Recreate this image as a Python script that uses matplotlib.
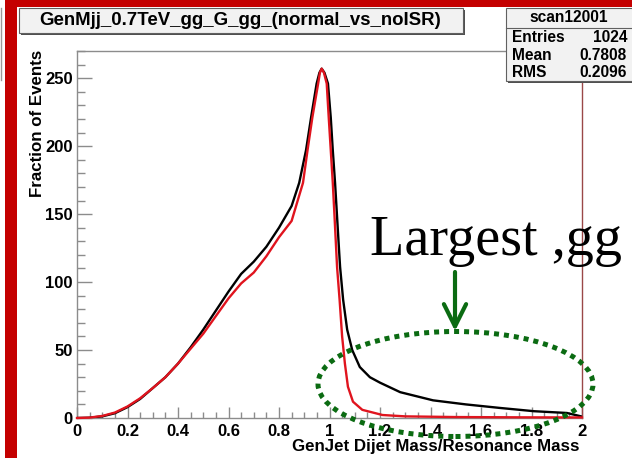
import matplotlib
matplotlib.use("Agg")
import matplotlib.pyplot as plt
from matplotlib.patches import Rectangle, Ellipse
from matplotlib.ticker import MultipleLocator

# GenJet dijet mass / resonance mass, normal generation (black) vs no ISR (red)
x_normal = [0.0, 0.05, 0.1, 0.15, 0.2, 0.25, 0.3, 0.35, 0.4, 0.45, 0.5, 0.55,
            0.6, 0.65, 0.7, 0.75, 0.8, 0.85, 0.88, 0.907, 0.927, 0.949, 0.96, 0.969,
            0.98, 0.994, 1.005, 1.013, 1.022, 1.03, 1.038, 1.042, 1.054, 1.07, 1.09,
            1.12, 1.16, 1.2, 1.28, 1.41, 1.54, 1.675, 1.81, 1.94, 1.99, 2.0]
y_normal = [0.0, 0.2, 1.2, 3.5, 8, 14, 22, 30, 40, 52, 65, 79,
            93, 106, 115, 126, 140, 156, 173, 197, 221, 246, 254, 257,
            254, 246, 221, 197, 173, 148, 123, 111, 87, 65, 50,
            37.5, 30, 26, 19, 13, 10, 7.4, 5, 3.7, 1.5, 1.0]

x_noisr = [0.0, 0.05, 0.1, 0.15, 0.2, 0.25, 0.3, 0.35, 0.4, 0.45, 0.5, 0.55,
           0.6, 0.65, 0.7, 0.75, 0.8, 0.85, 0.895, 0.913, 0.932, 0.955, 0.962, 0.969,
           0.978, 0.989, 0.997, 1.005, 1.013, 1.02, 1.03, 1.04, 1.05, 1.061, 1.073,
           1.093, 1.13, 1.21, 1.3, 1.5, 1.75, 2.0]
y_noisr = [0.0, 0.3, 1.5, 4, 8.5, 14.5, 22, 30, 40, 51, 62, 75,
           88, 99, 107, 119, 133, 145, 173, 197, 221, 246, 254, 257,
           254, 246, 221, 197, 173, 148, 111, 87, 60, 40, 23,
           12, 6, 2.2, 1.2, 0.7, 0.5, 0.4]

stats_names = ["Entries", "Mean", "RMS"]
stats_values = ["1024", "0.7808", "0.2096"]

W, H = 632, 458
ROOT_FONT = "Liberation Sans"
GREEN = "#0b6b12"


def fx(px):
    return px / W


def fy(py):
    return 1 - py / H


fig = plt.figure(figsize=(W / 100, H / 100), dpi=100)
ax = fig.add_axes([fx(77), fy(418), fx(582) - fx(77), fy(51) - fy(418)])

ax.plot(x_normal, y_normal, color="black", lw=1.7, zorder=3)
ax.plot(x_noisr, y_noisr, color="#e0141e", lw=1.7, zorder=4, clip_on=False)

ax.set_xlim(0, 2)
ax.set_ylim(0, 270)
ax.xaxis.set_major_locator(MultipleLocator(0.2))
ax.xaxis.set_minor_locator(MultipleLocator(0.05))
ax.yaxis.set_major_locator(MultipleLocator(50))
ax.yaxis.set_minor_locator(MultipleLocator(10))
ax.xaxis.set_major_formatter(plt.FuncFormatter(lambda v, p: f"{v:g}"))

for side in ["left", "top", "bottom"]:
    ax.spines[side].set_color("#8c8c8c")
    ax.spines[side].set_linewidth(1.0)
ax.spines["right"].set_color("#9a4848")
ax.spines["right"].set_linewidth(1.0)

ax.tick_params(axis="both", which="both", direction="in", color="#8c8c8c",
               width=1.0, labelsize=12)
ax.tick_params(axis="y", which="major", length=11, pad=3)
ax.tick_params(axis="y", which="minor", length=6)
ax.tick_params(axis="x", which="major", length=8, pad=4)
ax.tick_params(axis="x", which="minor", length=4.5)
for lab in ax.get_xticklabels() + ax.get_yticklabels():
    lab.set_fontfamily(ROOT_FONT)
    lab.set_fontweight("bold")

# axis titles
fig.text(fx(38), fy(50), "Fraction of Events", rotation=90, ha="center",
         va="top", fontsize=12.2, fontweight="bold", family=ROOT_FONT)
fig.text(fx(579), fy(447), "GenJet Dijet Mass/Resonance Mass", ha="right",
         va="center", fontsize=12.2, fontweight="bold", family=ROOT_FONT)


def root_box(x0, y0, x1, y1):
    fig.add_artist(Rectangle((fx(x0 + 2), fy(y1 + 2)), fx(x1 - x0), fy(y0) - fy(y1),
                             transform=fig.transFigure, fc="#505050", ec="none",
                             zorder=5))
    fig.add_artist(Rectangle((fx(x0), fy(y1)), fx(x1 - x0), fy(y0) - fy(y1),
                             transform=fig.transFigure, fc="#f2f2f2", ec="#606060",
                             lw=0.8, zorder=6))


# title pave
root_box(19, 8, 463, 33)
fig.text(fx(240.5), fy(20.5), "GenMjj_0.7TeV_gg_G_gg_(normal_vs_noISR)", ha="center",
         va="center", fontsize=13.4, fontweight="bold", family=ROOT_FONT, zorder=7)

# stats pave
root_box(506, 8, 634, 81)
fig.add_artist(plt.Line2D([fx(506), fx(632)], [fy(28), fy(28)], color="#606060",
                          lw=0.8, transform=fig.transFigure, zorder=7))
fig.text(fx(569), fy(18), "scan12001", ha="center", va="center", fontsize=11.2,
         fontweight="bold", family=ROOT_FONT, zorder=7)
for i, (name, val) in enumerate(zip(stats_names, stats_values)):
    yy = fy(37.5 + 17.5 * i)
    fig.text(fx(512), yy, name, ha="left", va="center", fontsize=11.2,
             fontweight="bold", family=ROOT_FONT, zorder=7)
    fig.text(fx(627), yy, val, ha="right", va="center", fontsize=11.2,
             fontweight="bold", family=ROOT_FONT, zorder=7)

# slide frame
fig.add_artist(Rectangle((fx(5), 0), fx(12), 1, transform=fig.transFigure,
                         fc="#c40000", ec="none", zorder=8))
fig.add_artist(Rectangle((fx(5), fy(7)), 1, fy(0) - fy(7), transform=fig.transFigure,
                         fc="#c40000", ec="none", zorder=8))
fig.add_artist(plt.Line2D([fx(1), fx(1)], [fy(8), fy(80)], color="#9a9a9a", lw=1,
                          transform=fig.transFigure, zorder=8))

# callout on the high-mass tail
fig.text(fx(370), fy(255), "Largest ,gg", ha="left", va="baseline",
         fontsize=40.5, family="Liberation Serif", zorder=9)
ax.annotate("", xy=(fx(455), fy(331)), xytext=(fx(455), fy(272)),
            xycoords="figure fraction", textcoords="figure fraction",
            arrowprops=dict(arrowstyle="->,head_length=1.0,head_width=0.5",
                            color=GREEN, lw=3, shrinkA=0, shrinkB=0,
                            mutation_scale=16),
            zorder=9)
fig.add_artist(Ellipse((fx(455.5), fy(384)), fx(275), 105 / H,
                       transform=fig.transFigure, fill=False, ec=GREEN,
                       lw=3.6, ls=(0, (1, 1)), zorder=9))

fig.savefig("out.png", dpi=100)
